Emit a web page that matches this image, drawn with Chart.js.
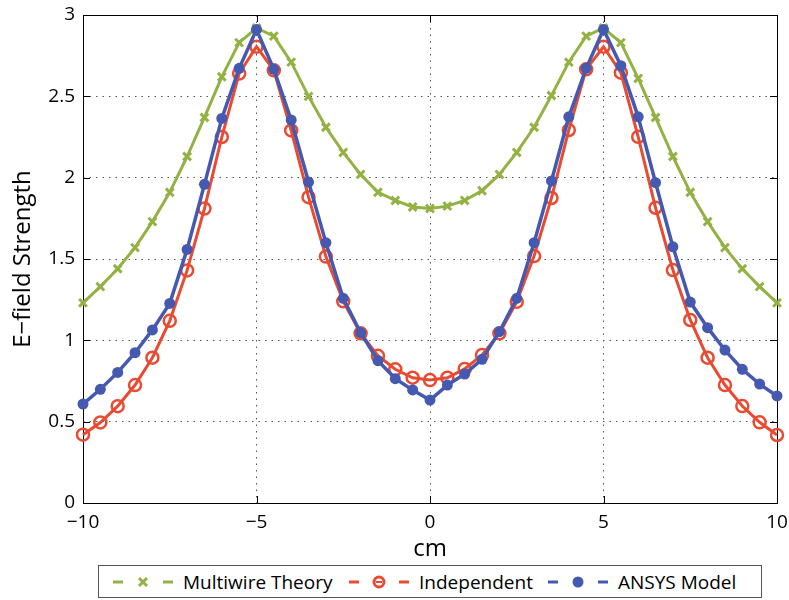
<!DOCTYPE html>
<html>
<head>
<meta charset="utf-8">
<script src="https://cdn.jsdelivr.net/npm/chart.js@4.4.1/dist/chart.umd.min.js"></script>
<style>
  html, body { margin: 0; padding: 0; background: #fff; }
  #wrap { position: relative; width: 789px; height: 600px; font-family: "Open Sans", sans-serif; }
  #legend {
    position: absolute; left: 98px; top: 565px; width: 664px; height: 33px;
    border: 1px solid #555; box-sizing: border-box; background: #fff;
  }
  .item { position: absolute; top: 0; height: 100%; display: flex; align-items: center; }
  .item span { margin-left: 8px; font-size: 19px; color: #000; white-space: nowrap; }
</style>
</head>
<body>
<div id="wrap">
  <canvas id="chart" width="789" height="600"></canvas>
  <div id="legend">
    <div class="item" style="left:14px">
      <svg width="62" height="20"><g stroke="#93b244" stroke-width="3">
        <line x1="0" y1="10" x2="10" y2="10"/><line x1="50" y1="10" x2="60" y2="10"/>
        <line x1="26" y1="6" x2="34" y2="14"/><line x1="26" y1="14" x2="34" y2="6"/></g></svg>
      <span>Multiwire Theory</span>
    </div>
    <div class="item" style="left:250px">
      <svg width="62" height="20"><g stroke="#e84b31" stroke-width="3" fill="none">
        <line x1="0" y1="10" x2="10" y2="10"/><line x1="50" y1="10" x2="60" y2="10"/>
        <circle cx="30" cy="10" r="5"/><line x1="27" y1="10" x2="33" y2="10" stroke-width="2"/></g></svg>
      <span>Independent</span>
    </div>
    <div class="item" style="left:449px">
      <svg width="62" height="20"><g stroke="#4659b0" stroke-width="3" fill="#4659b0">
        <line x1="0" y1="10" x2="10" y2="10"/><line x1="50" y1="10" x2="60" y2="10"/>
        <circle cx="30" cy="10" r="5.5" stroke="none"/></g></svg>
      <span>ANSYS Model</span>
    </div>
  </div>
</div>
<script>
const xValues = [
  -10, -9.5, -9, -8.5, -8, -7.5, -7, -6.5, -6, -5.5, -5, -4.5, -4, -3.5, -3, -2.5, -2, -1.5, -1, -0.5,
  0, 0.5, 1, 1.5, 2, 2.5, 3, 3.5, 4, 4.5, 5, 5.5, 6, 6.5, 7, 7.5, 8, 8.5, 9, 9.5, 10,
];
const multiwire = [
  1.23, 1.33, 1.44, 1.57, 1.73, 1.91, 2.13, 2.37, 2.62, 2.83, 2.92, 2.87, 2.71, 2.50, 2.31, 2.155, 2.02, 1.91, 1.86, 1.82,
  1.81, 1.825, 1.86, 1.92, 2.02, 2.155, 2.31, 2.505, 2.71, 2.87, 2.92, 2.83, 2.61, 2.37, 2.13, 1.91, 1.73, 1.57, 1.44, 1.33, 1.23,
];
const independent = [
  0.42, 0.495, 0.595, 0.725, 0.893, 1.12, 1.43, 1.81, 2.25, 2.64, 2.805, 2.66, 2.29, 1.88, 1.515, 1.24, 1.043, 0.905, 0.822, 0.77,
  0.756, 0.77, 0.824, 0.91, 1.043, 1.237, 1.518, 1.875, 2.293, 2.666, 2.805, 2.645, 2.251, 1.815, 1.432, 1.125, 0.893, 0.725, 0.596, 0.496, 0.418,
];
const ansys = [
  0.608, 0.699, 0.803, 0.924, 1.064, 1.227, 1.559, 1.959, 2.364, 2.672, 2.911, 2.666, 2.354, 1.973, 1.600, 1.258, 1.047, 0.875, 0.764, 0.695,
  0.633, 0.725, 0.793, 0.883, 1.053, 1.258, 1.600, 1.980, 2.374, 2.672, 2.911, 2.688, 2.374, 1.969, 1.575, 1.235, 1.078, 0.940, 0.822, 0.731, 0.658,
];
const xTicks = [-10, -5, 0, 5, 10];
const yTicks = [0, 0.5, 1, 1.5, 2, 2.5, 3];

const GREEN = "#93b244";
const RED = "#e84b31";
const BLUE = "#4659b0";
const FONT = "'Open Sans', sans-serif";

const pts = arr => xValues.map((x, i) => ({ x, y: arr[i] }));

// matlab style box with inward ticks
const frame = {
  id: "frame",
  beforeDatasetsDraw(chart) {
    const { ctx, chartArea: a, scales: { x, y } } = chart;
    ctx.save();
    ctx.strokeStyle = "#000";
    ctx.lineWidth = 1;
    ctx.strokeRect(a.left + 0.5, a.top + 0.5, a.right - a.left, a.bottom - a.top);
    ctx.beginPath();
    xTicks.forEach(v => {
      const px = Math.round(x.getPixelForValue(v)) + 0.5;
      ctx.moveTo(px, a.bottom); ctx.lineTo(px, a.bottom - 7);
      ctx.moveTo(px, a.top); ctx.lineTo(px, a.top + 7);
    });
    yTicks.forEach(v => {
      const py = Math.round(y.getPixelForValue(v)) + 0.5;
      ctx.moveTo(a.left, py); ctx.lineTo(a.left + 7, py);
      ctx.moveTo(a.right, py); ctx.lineTo(a.right - 7, py);
    });
    ctx.stroke();
    ctx.restore();
  },
};

const gridOpts = { color: "#555", lineWidth: 1, drawTicks: false };
const borderOpts = { display: false, dash: [1.5, 5] };

new Chart(document.getElementById("chart"), {
  type: "line",
  data: {
    datasets: [
      {
        label: "Multiwire Theory", data: pts(multiwire), order: 3,
        borderColor: GREEN, borderWidth: 3, tension: 0, clip: false,
        pointStyle: "crossRot", pointRadius: 5.5, pointBorderWidth: 3, pointBorderColor: GREEN,
      },
      {
        label: "Independent", data: pts(independent), order: 2,
        borderColor: RED, borderWidth: 3, tension: 0, clip: false,
        pointStyle: "circle", pointRadius: 6, pointBorderWidth: 2.5,
        pointBorderColor: RED, pointBackgroundColor: "rgba(0,0,0,0)",
      },
      {
        label: "ANSYS Model", data: pts(ansys), order: 1,
        borderColor: BLUE, borderWidth: 3.5, tension: 0, clip: false,
        pointStyle: "circle", pointRadius: 5.5, pointBorderWidth: 0,
        pointBorderColor: BLUE, pointBackgroundColor: BLUE,
      },
    ],
  },
  options: {
    responsive: false,
    animation: false,
    devicePixelRatio: 1,
    layout: { padding: { top: 15, right: 12, left: 0, bottom: 0 } },
    plugins: { legend: { display: false }, tooltip: { enabled: false } },
    scales: {
      x: {
        type: "linear", min: -10, max: 10,
        afterBuildTicks: s => { s.ticks = xTicks.map(v => ({ value: v })); },
        afterFit: s => { s.height = 97; s.paddingLeft = 0; s.paddingRight = 0; },
        ticks: {
          color: "#000", padding: 8, maxRotation: 0,
          font: { family: FONT, size: 19 },
          callback: v => String(v).replace("-", "\u2212"),
        },
        grid: gridOpts,
        border: borderOpts,
        title: {
          display: true, text: "cm", color: "#000",
          font: { family: FONT, size: 24 }, padding: { top: 0, bottom: 36 },
        },
      },
      y: {
        type: "linear", min: 0, max: 3,
        afterBuildTicks: s => { s.ticks = yTicks.map(v => ({ value: v })); },
        afterFit: s => { s.width = 83; s.paddingTop = 0; s.paddingBottom = 0; },
        ticks: {
          color: "#000", padding: 8,
          font: { family: FONT, size: 19 },
          callback: v => String(v),
        },
        grid: gridOpts,
        border: borderOpts,
        title: {
          display: true, text: "E\u2212field Strength", color: "#000",
          font: { family: FONT, size: 24 }, padding: { top: 9, bottom: 0 },
        },
      },
    },
  },
  plugins: [frame],
});
</script>
</body>
</html>
